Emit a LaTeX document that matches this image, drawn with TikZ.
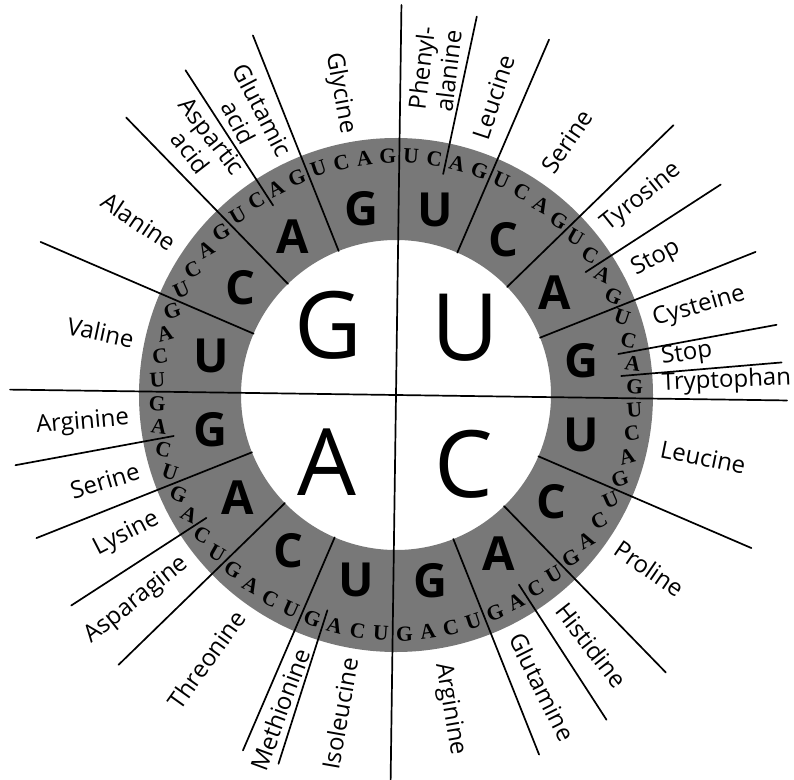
\documentclass[tikz,border=0pt]{standalone}
\usepackage{fontspec}
\setmainfont{Open Sans}
\newfontfamily\thirdfont{Liberation Serif}
\definecolor{ringgray}{gray}{0.47}
\tikzset{
  sepline/.style={line width=1.7pt, line cap=round},
  bigletter/.style={font=\fontsize{93}{93}\selectfont, inner sep=0pt},
  secletter/.style={font=\bfseries\fontsize{47}{47}\selectfont, inner sep=0pt},
  thirdletter/.style={font=\thirdfont\bfseries\fontsize{21.5}{21.5}\selectfont, inner sep=0pt},
  aalabel/.style={font=\fontsize{24}{27}\selectfont, inner sep=0pt, align=center},
}
\begin{document}
\begin{tikzpicture}[x=1pt,y=1pt]
\fill[white] (-396pt,-384pt) rectangle (398pt,395pt);
\useasboundingbox (-396pt,-384pt) rectangle (398pt,395pt);
% ring
\fill[ringgray, even odd rule] (0,0) circle (257pt) (0,0) circle (155pt);
% full diameters
\draw[sepline] ({90-0.8}:390pt) coordinate (vtop) -- ({-90-0.8}:392pt) coordinate (vbot);
\draw[sepline] ({180-0.8}:386pt) coordinate (hleft) -- ({0-0.8}:391pt) coordinate (hright);
% second-base boundaries
\foreach \j in {1,2,3,5,6,7,9,10,11,13,14,15}
  \draw[sepline] ({90-22.5*\j-0.8}:155pt) -- ({90-22.5*\j-0.8}:387pt);
% amino-acid boundaries inside a second-base sector
\foreach \a in {78.75,33.75,11.25,5.625,-56.25,-106.875,-146.25,-168.75,123.75}
  \draw[sepline] ({\a-0.8}:226pt) -- ({\a-0.8}:387pt);
% first base
\node[bigletter] (fU) at ({45-0.8}:97pt) {U};
\node[bigletter] (fC) at ({-45-0.8}:97pt) {C};
\node[bigletter] (fA) at ({-135-0.8}:97pt) {A};
\node[bigletter] (fG) at ({135-0.8}:97pt) {G};
% second and third bases
\foreach \f in {0,1,2,3} {
  \foreach \s/\S in {0/U,1/C,2/A,3/G} {
    \pgfmathsetmacro\ang{90-22.5*(4*\f+\s+0.5)-0.8}
    \node[secletter] (s\f\s) at (\ang:189pt) {\S};
    \foreach \t/\T in {0/U,1/C,2/A,3/G} {
      \pgfmathsetmacro\tang{90-5.625*(16*\f+4*\s+\t+0.5)-0.8}
      \pgfmathsetmacro\rot{-30*sin(2*\tang)}
      \node[thirdletter, rotate=\rot] (t\f\s\t) at (\tang:239pt) {\T};
    }
  }
}
% labels, right half (reading outward)
\foreach \a/\r/\txt/\nm in {
  84/286/{Phenyl-\\alanine}/phe, 72.6/270/{Leucine}/leuA, 56.8/270/{Serine}/serA,
  39.6/268/{Tyrosine}/tyr, 28.5/268/{Stop}/stopA, 17/268/{Cysteine}/cys,
  8.7/268/{Stop}/stopB, 3.2/266/{Tryptophan}/trp, -10.7/270/{Leucine}/leuB,
  -33.6/268/{Proline}/pro, -51.2/268/{Histidine}/his, -62.6/268/{Glutamine}/gln,
  -79.5/272/{Arginine}/argA}
  \node[aalabel, anchor=west, rotate={\a-0.8}] (\nm) at ({\a-0.8}:\r pt) {\txt};
% labels, left half (reading inward)
\foreach \a/\r/\txt/\nm in {
  -99.2/267/{Isoleucine}/ile, -109.4/271/{Methionine}/met, -124.8/268/{Threonine}/thr,
  -140.8/268/{Asparagine}/asn, -151.9/268/{Lysine}/lys, -162.8/268/{Serine}/serB,
  -174.1/268/{Arginine}/argB, 168.8/268/{Valine}/val, 146.8/268/{Alanine}/ala,
  128.6/272/{Aspartic\\acid}/asp, 118.3/264/{Glutamic\\acid}/glu, 101.3/266/{Glycine}/gly}
  \node[aalabel, anchor=east, rotate={\a+180-0.8}] (\nm) at ({\a-0.8}:\r pt) {\txt};
\end{tikzpicture}
\end{document}
